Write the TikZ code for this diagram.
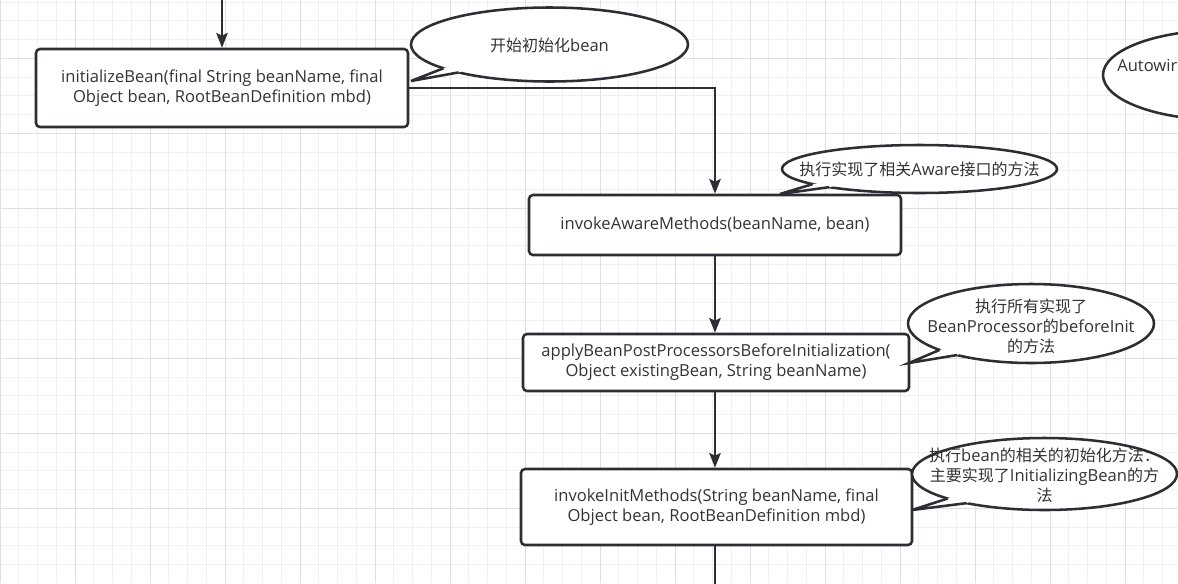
\documentclass[tikz,border=0pt]{standalone}
\usepackage{fontspec}
\setmainfont{Open Sans}[Scale=1.035]
\newfontfamily\cjk{Noto Sans CJK SC}
\usetikzlibrary{arrows.meta}
\definecolor{ln}{HTML}{2B2E33}
\definecolor{tx}{HTML}{333333}
\definecolor{gminor}{HTML}{F0F0F0}
\definecolor{gmajor}{HTML}{E0E0E0}
% #1 cx, #2 cy, #3 rx, #4 ry, #5 angle1, #6 angle2, #7 tipx, #8 tipy
\newcommand\mybubble[8]{%
  \draw[bub] (#1,#2) ellipse [x radius=#3, y radius=#4];
  \fill[white] ({#1+#3*cos(#5)},{#2+#4*sin(#5)}) -- (#7,#8) -- ({#1+#3*cos(#6)},{#2+#4*sin(#6)}) -- (#1,#2) -- cycle;
  \draw[bubline] ({#1+#3*cos(#5)},{#2+#4*sin(#5)}) -- (#7,#8) -- ({#1+#3*cos(#6)},{#2+#4*sin(#6)});
}
\begin{document}
\begin{tikzpicture}[x=0.75pt,y=-0.75pt,
  fnt/.style={font=\fontsize{12pt}{15pt}\selectfont},
  box/.style={draw=ln, line width=1.9pt, fill=white, rounded corners=3pt, text=tx, align=center, inner sep=0pt, fnt},
  txt/.style={text=tx, align=center, inner sep=0pt, fnt},
  bub/.style={draw=ln, line width=1.9pt, fill=white},
  bubline/.style={draw=ln, line width=1.9pt, line join=miter},
  conn/.style={draw=ln, line width=1.9pt},
  arr/.style={conn, -{Stealth[length=11pt,width=8.5pt,inset=2pt]}},
  gmin/.style={draw=gminor, line width=0.75pt},
  gmaj/.style={draw=gmajor, line width=0.75pt}]
\useasboundingbox (0,0) rectangle (1178,583);
\clip (0,0) rectangle (1178,583);
\fill[white] (0,0) rectangle (1178,583);
% grid
\foreach \i in {0,...,62} \draw[gmin] ({\i*18.75},0) -- ({\i*18.75},583);
\foreach \j in {0,...,30} \draw[gmin] (0,{2.083+\j*18.75}) -- (1178,{2.083+\j*18.75});
\foreach \i in {0,...,15} \draw[gmaj] ({\i*75},0) -- ({\i*75},583);
\foreach \j in {0,...,6} \draw[gmaj] (0,{58.333+\j*75}) -- (1178,{58.333+\j*75});

% boxes
\node[box, minimum width=279pt, minimum height=58.5pt] (b1) at (222,88)
  {initializeBean(final String beanName, final\\Object bean, RootBeanDefinition mbd)};
\node[box, minimum width=279pt, minimum height=45pt] (b2) at (715,225)
  {invokeAwareMethods(beanName, bean)};
\node[box, minimum width=289.5pt, minimum height=42.75pt] (b3) at (716,362.5)
  {applyBeanPostProcessorsBeforeInitialization(\\Object existingBean, String beanName)};
\node[box, minimum width=293.25pt, minimum height=57pt] (b4) at (716.5,507)
  {invokeInitMethods(String beanName, final\\Object bean, RootBeanDefinition mbd)};

% connectors
\coordinate (top) at (222,0);
\coordinate (bot) at (715,590);
\draw[arr] (top) -- (b1.north);
\draw[arr] (b1.east) -| (b2.north);
\draw[arr] (b2.south) -- (b2.south |- b3.north);
\draw[arr] (b3.south -| b2.south) -- (b2.south |- b4.north);
\draw[conn] (b4.south -| b2.south) -- (b2.south |- bot);

% callouts
\mybubble{549.5}{44.5}{138.5}{37}{140}{131}{411}{81}
\node[txt] (c1) at (549.5,45) {{\cjk 开始初始化}bean};

\mybubble{919.5}{169}{137.5}{24}{141}{131}{780}{194}
\node[txt] (c2) at (919.5,169) {{\cjk 执行实现了相关}Aware{\cjk 接口的方法}};

\mybubble{1031}{323.5}{123}{39.5}{138}{127}{909}{363}
\node[txt] (c3) at (1031,326) {{\cjk 执行所有实现了}\\BeanProcessor{\cjk 的}beforeInit\\{\cjk 的方法}};

\mybubble{1044.5}{474}{132.5}{36}{137}{126}{912}{510}
\node[txt] (c4) at (1044.5,475) {{\cjk 执行}bean{\cjk 的相关的初始化方法：}\\{\cjk 主要实现了}InitializingBean{\cjk 的方}\\{\cjk 法}};

\draw[bub] (1223,75) ellipse [x radius=120, y radius=45];
\node[txt, anchor=west] (c5) at (1117,65) {Autowir};
\end{tikzpicture}
\end{document}
